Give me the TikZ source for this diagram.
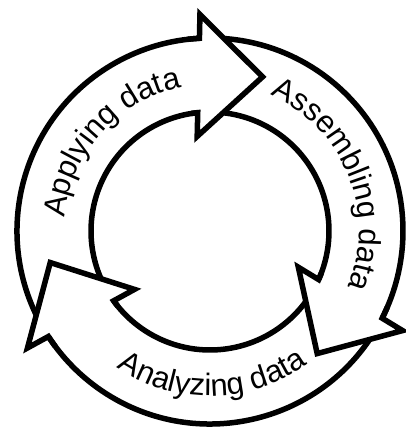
\documentclass[tikz,border=0pt]{standalone}
\usepackage{fontspec}
\newfontfamily\cyclefont{Liberation Sans}
\usetikzlibrary{decorations.text}
\begin{document}
\begin{tikzpicture}[x=1pt,y=1pt,
  ring/.style={line width=5.5pt, line join=miter},
  cyclelabel/.style={decorate, decoration={text along path, text align=center,
      text={|\cyclefont\fontsize{31}{31}\selectfont|#1}}}]
\useasboundingbox (-210,-201) rectangle (196,231);

% radii of the ring and the arrow heads (local frame: x radial, y tangential)
\def\Rout{193}
\def\Rin{119}

% curved shafts: outer and inner arcs, each tail tucked under the previous head
\foreach \p/\q in {94.2/209.2, -25.8/89.2, -145.8/-30.8} {
  \pgfmathsetmacro\eo{\p-1.06}
  \pgfmathsetmacro\ei{\p+1.72}
  \draw[ring] (\q:\Rout) arc[start angle=\q, end angle=\eo, radius=\Rout];
  \draw[ring] (\q:\Rin) arc[start angle=\q, end angle=\ei, radius=\Rin];
}

% arrow heads, drawn over the tails of the following shafts
\foreach \p in {94.2, -25.8, -145.8} {
  \begin{scope}[rotate=\p]
    \fill[white] (216.72,-5.85) -- (149.87,-63.7) -- (95.28,5.85) -- cycle;
    \draw[ring] (2.5:\Rout) arc[start angle=2.5, end angle=-1.06, radius=\Rout]
      -- (216.72,-5.85) -- (149.87,-63.7) -- (95.28,5.85)
      -- (1.72:\Rin) arc[start angle=1.72, end angle=5, radius=\Rin];
  \end{scope}
}

% labels along the ring
\path[cyclelabel={Applying data}] (190:146) arc[start angle=190, end angle=86, radius=146];
\path[cyclelabel={Assembling data}] (90:149) arc[start angle=90, end angle=-46, radius=149];
\path[cyclelabel={Analyzing data}] (220:165) arc[start angle=220, end angle=322, radius=165];
\end{tikzpicture}
\end{document}
